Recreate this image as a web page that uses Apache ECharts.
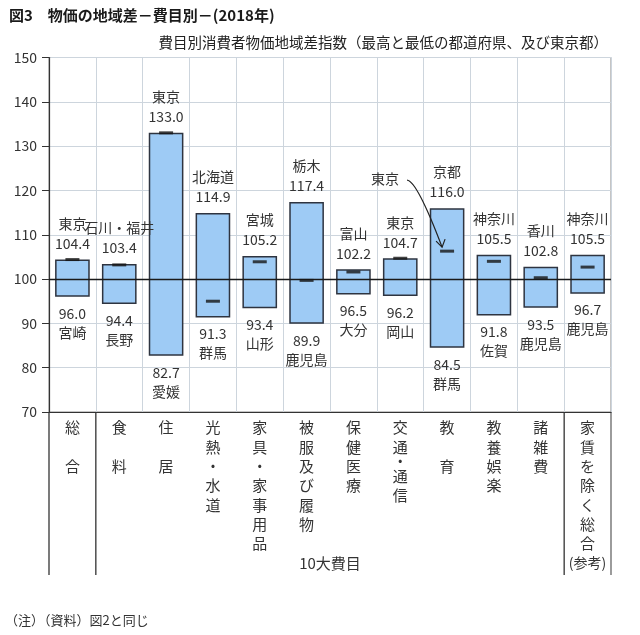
<!DOCTYPE html>
<html>
<head>
<meta charset="utf-8">
<script src="https://cdn.jsdelivr.net/npm/echarts@6/dist/echarts.min.js"></script>
<style>
html,body{margin:0;padding:0;background:#fff;}
#main{width:640px;height:635px;}
</style>
</head>
<body>
<div id="main"></div>
<script>
// 費目別消費者物価地域差指数 (2018年)
var categories = ['総合','食料','住居','光熱・水道','家具・家事用品','被服及び履物','保健医療','交通・通信','教育','教養娯楽','諸雑費','家賃を除く総合'];
var tickLabels = [
    ['総','','合'],
    ['食','','料'],
    ['住','','居'],
    ['光','熱','・','水','道'],
    ['家','具','・','家','事','用','品'],
    ['被','服','及','び','履','物'],
    ['保','健','医','療'],
    ['交','通','*・','通','信'],
    ['教','','育'],
    ['教','養','娯','楽'],
    ['諸','雑','費'],
    ['家','賃','を','除','く','総','合','(参考)']
];
var maxVals  = [104.4, 103.4, 133.0, 114.9, 105.2, 117.4, 102.2, 104.7, 116.0, 105.5, 102.8, 105.5];
var maxPrefs = ['東京','石川・福井','東京','北海道','宮城','栃木','富山','東京','京都','神奈川','香川','神奈川'];
var minVals  = [96.0, 94.4, 82.7, 91.3, 93.4, 89.9, 96.5, 96.2, 84.5, 91.8, 93.5, 96.7];
var minPrefs = ['宮崎','長野','愛媛','群馬','山形','鹿児島','大分','岡山','群馬','佐賀','鹿児島','鹿児島'];
var tokyoVals = [104.4, 103.2, 133.0, 95.0, 103.9, 99.7, 101.6, 104.7, 106.3, 104.0, 100.3, 102.7];
var tokyoNoteIdx = 8;   // 教育: 東京 is neither max nor min, shown with an arrow
var yTicks = [70, 80, 90, 100, 110, 120, 130, 140, 150];

var FONT = '"Noto Sans CJK JP", "Noto Sans", sans-serif';
var myChart = echarts.init(document.getElementById('main'));

var option = {
    animation: false,
    textStyle: {fontFamily: FONT},
    title: [{
        text: '図3　物価の地域差－費目別－(2018年)',
        left: 4,
        top: 3,
        textStyle: {fontSize: 15, fontWeight: 'bold', color: '#1a1a1a', fontFamily: FONT}
    }, {
        text: '費目別消費者物価地域差指数（最高と最低の都道府県、及び東京都）',
        right: 27,
        top: 30,
        textStyle: {fontSize: 14.5, fontWeight: 'normal', color: '#222', fontFamily: FONT}
    }, {
        text: '（注）（資料）図2と同じ',
        left: 0,
        top: 609,
        textStyle: {fontSize: 13, fontWeight: 'normal', color: '#333', fontFamily: FONT}
    }],
    grid: {
        left: 49,
        right: 29,
        top: 57.5,
        bottom: 223,
        show: true,
        borderColor: '#8a8a8a',
        borderWidth: 1
    },
    xAxis: {
        type: 'category',
        data: categories,
        axisLine: {lineStyle: {color: '#333', width: 1.2}},
        axisTick: {show: false},
        splitLine: {show: true, interval: 0, lineStyle: {color: '#cdd5dd', width: 1}},
        axisLabel: {
            interval: 0,
            margin: 6,
            formatter: function (val, idx) {
                return tickLabels[idx].map(function (ch) {
                    if (ch === '') return '{g| }';
                    if (ch.charAt(0) === '*') return '{d|' + ch.slice(1) + '}';
                    if (ch.length > 1) return '{s|' + ch + '}';
                    return '{c|' + ch + '}';
                }).join('\n');
            },
            rich: {
                c: {fontSize: 15, lineHeight: 19.3, color: '#333', fontFamily: FONT},
                g: {fontSize: 15, lineHeight: 19.3, color: '#333'},
                d: {fontSize: 15, lineHeight: 10, color: '#333', fontFamily: FONT},
                s: {fontSize: 14, lineHeight: 19.3, color: '#333', fontFamily: FONT}
            },
            verticalAlign: 'top'
        }
    },
    yAxis: {
        type: 'value',
        min: yTicks[0],
        max: yTicks[yTicks.length - 1],
        interval: 10,
        axisLine: {show: true, lineStyle: {color: '#333', width: 1.2}},
        axisTick: {show: true, length: 7, lineStyle: {color: '#333'}},
        axisLabel: {fontSize: 14, color: '#333', margin: 12, fontFamily: FONT},
        splitLine: {show: true, lineStyle: {color: '#cdd5dd', width: 1}}
    },
    series: [{
        // invisible base up to the lowest prefecture
        name: 'base',
        type: 'bar',
        stack: 'range',
        barWidth: '74%',
        silent: true,
        itemStyle: {color: 'rgba(0,0,0,0)'},
        label: {
            show: true,
            position: 'insideTop',
            distance: 7,
            formatter: function (p) {
                return '{v|' + minVals[p.dataIndex].toFixed(1) + '}\n{n|' + minPrefs[p.dataIndex] + '}';
            },
            rich: {
                v: {fontSize: 14, lineHeight: 19, color: '#333', fontFamily: FONT},
                n: {fontSize: 14, lineHeight: 19, color: '#333', fontFamily: FONT}
            }
        },
        data: minVals,
        markLine: {
            silent: true,
            symbol: 'none',
            label: {show: false},
            lineStyle: {color: '#1a1a1a', width: 1.3, type: 'solid'},
            data: [{yAxis: 100}]
        }
    }, {
        name: 'range',
        type: 'bar',
        stack: 'range',
        barWidth: '74%',
        itemStyle: {color: '#9ecbf5', borderColor: '#2e3440', borderWidth: 1.5},
        label: {
            show: true,
            position: 'top',
            distance: 6,
            formatter: function (p) {
                return '{n|' + maxPrefs[p.dataIndex] + '}\n{v|' + maxVals[p.dataIndex].toFixed(1) + '}';
            },
            rich: {
                v: {fontSize: 14, lineHeight: 20, color: '#333', fontFamily: FONT},
                n: {fontSize: 14, lineHeight: 20, color: '#333', fontFamily: FONT}
            }
        },
        data: maxVals.map(function (v, i) { return +(v - minVals[i]).toFixed(1); })
    }, {
        name: '東京',
        type: 'scatter',
        symbol: 'rect',
        symbolSize: [14, 3],
        itemStyle: {color: '#151515'},
        z: 5,
        data: tokyoVals.map(function (v, i) { return [i, v]; })
    }, {
        // 東京 note with arrow for 教育
        name: 'note',
        type: 'custom',
        silent: true,
        z: 6,
        renderItem: function (params, api) {
            var pt = api.coord([api.value(0), api.value(1)]);
            var sx = pt[0] - 40, sy = pt[1] - 71;
            var ex = pt[0] - 5, ey = pt[1] - 4;
            return {
                type: 'group',
                children: [{
                    type: 'text',
                    style: {
                        text: '東京',
                        x: pt[0] - 48,
                        y: pt[1] - 72,
                        align: 'right',
                        verticalAlign: 'middle',
                        font: '14px ' + FONT,
                        fill: '#333'
                    }
                }, {
                    type: 'bezierCurve',
                    shape: {x1: sx, y1: sy, x2: ex, y2: ey, cpx1: sx + 10, cpy1: sy + 1},
                    style: {stroke: '#222', lineWidth: 1.2, fill: null}
                }, {
                    type: 'polyline',
                    shape: {points: [[ex - 6, ey - 6], [ex, ey], [ex + 3, ey - 8]]},
                    style: {stroke: '#222', lineWidth: 1.2, fill: null}
                }]
            };
        },
        data: [[tokyoNoteIdx, tokyoVals[tokyoNoteIdx]]]
    }]
};

myChart.setOption(option);

// separators below the axis and the group caption
var c0 = myChart.convertToPixel({xAxisIndex: 0}, 0);
var c1 = myChart.convertToPixel({xAxisIndex: 0}, 1);
var band = c1 - c0;
var yBase = myChart.convertToPixel({yAxisIndex: 0}, yTicks[0]);
var yEnd = yBase + 163;
function boundary(i) { return c0 - band / 2 + band * i; }
var sepIdx = [0, 1, categories.length - 1, categories.length];
var graphics = sepIdx.map(function (i) {
    return {
        type: 'line',
        silent: true,
        shape: {x1: boundary(i), y1: yBase, x2: boundary(i), y2: yEnd},
        style: {stroke: i === categories.length ? '#666' : '#333', lineWidth: 1.3}
    };
});
graphics.push({
    type: 'text',
    silent: true,
    style: {
        text: '10大費目',
        x: (boundary(1) + boundary(categories.length - 1)) / 2,
        y: yBase + 151,
        align: 'center',
        verticalAlign: 'middle',
        font: '15px ' + FONT,
        fill: '#333'
    }
});
myChart.setOption({graphic: graphics});
</script>
</body>
</html>
